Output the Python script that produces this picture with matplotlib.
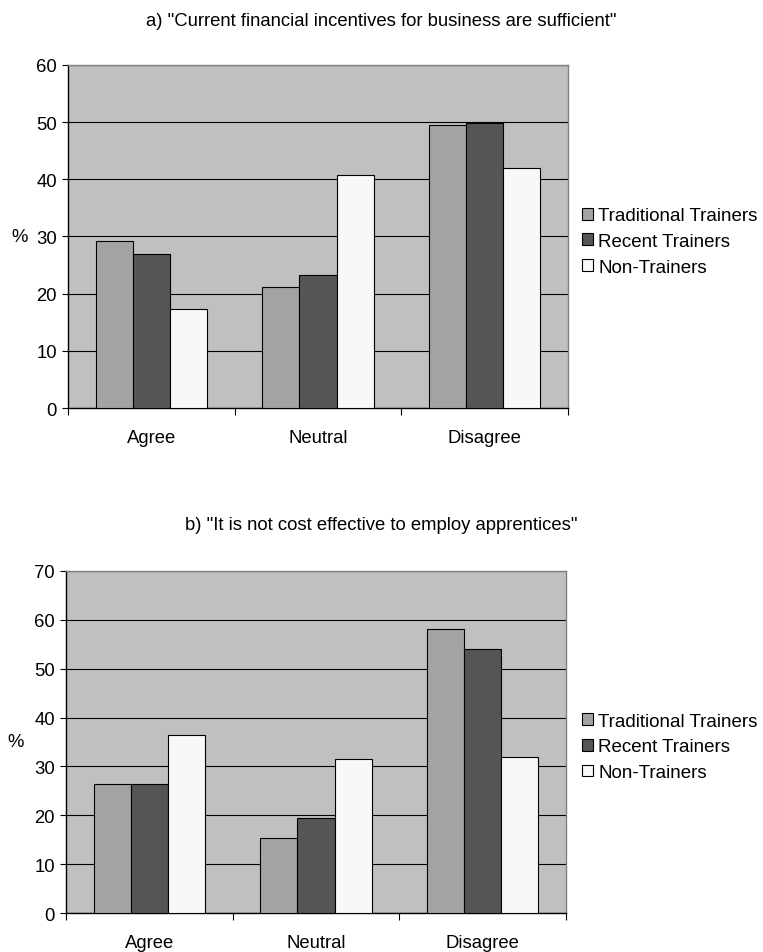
import matplotlib
matplotlib.use("Agg")
import matplotlib.pyplot as plt
import numpy as np

plt.rcParams['font.family'] = ['Liberation Sans', 'DejaVu Sans']

categories = ["Agree", "Neutral", "Disagree"]
series_names = ["Traditional Trainers", "Recent Trainers", "Non-Trainers"]
series_colors = ["#a3a3a3", "#555555", "#f8f8f8"]

title_a = 'a) "Current financial incentives for business are sufficient"'
traditional_a = [29.2, 21.2, 49.5]
recent_a = [27.0, 23.2, 49.8]
non_a = [17.4, 40.7, 41.9]
ticks_a = [0, 10, 20, 30, 40, 50, 60]

title_b = 'b) "It is not cost effective to employ apprentices"'
traditional_b = [26.5, 15.3, 58.1]
recent_b = [26.5, 19.4, 54.0]
non_b = [36.5, 31.6, 31.9]
ticks_b = [0, 10, 20, 30, 40, 50, 60, 70]

FS = 13.3

fig = plt.figure(figsize=(7.63, 9.53), dpi=100)

def draw_panel(rect, title, title_y, series, ticks, ylabel_x):
    ax = fig.add_axes(rect)
    ax.set_facecolor("#c0c0c0")
    x = np.arange(len(categories))
    w = 0.223
    handles = []
    for i, (vals, name, col) in enumerate(zip(series, series_names, series_colors)):
        b = ax.bar(x + (i - 1) * w, vals, width=w, color=col, edgecolor="black",
                   linewidth=0.8, label=name, zorder=3)
        handles.append(b)
    ax.set_xlim(-0.5, len(categories) - 0.5)
    ax.set_ylim(ticks[0], ticks[-1])
    ax.set_yticks(ticks)
    ax.yaxis.grid(True, color="black", linewidth=0.8, zorder=1)
    ax.set_axisbelow(True)
    ax.set_xticks(np.arange(len(categories) + 1) - 0.5)
    ax.set_xticklabels([])
    ax.set_xticks(x, minor=True)
    ax.set_xticklabels(categories, minor=True)
    ax.tick_params(axis="x", which="minor", length=0, pad=15, labelsize=FS)
    ax.tick_params(axis="x", which="major", length=5, direction="out", width=0.8)
    ax.tick_params(axis="y", length=4, direction="out", width=0.8, labelsize=FS, pad=4)
    for s in ["top", "right"]:
        ax.spines[s].set_color("#808080")
        ax.spines[s].set_linewidth(1.0)
    for s in ["left", "bottom"]:
        ax.spines[s].set_color("black")
        ax.spines[s].set_linewidth(1.0)
    ax.set_ylabel("%", rotation=0, fontsize=FS, ha="center", va="center")
    ax.yaxis.set_label_coords(ylabel_x, 0.5)
    fig.text(0.5, title_y, title, fontsize=FS, ha="center", va="center")
    cy = rect[1] + rect[3] / 2 - 5 / 953
    ax.legend(handles=handles, loc="center left", bbox_to_anchor=(582 / 763, cy),
              bbox_transform=fig.transFigure, frameon=False, fontsize=13.5,
              handlelength=0.6, handleheight=0.6, handletextpad=0.28,
              labelspacing=0.46, borderpad=0, borderaxespad=0)
    return ax

draw_panel([0.0891, 0.5708, 0.6553, 0.360], title_a, 1 - 21 / 953,
           [traditional_a, recent_a, non_a], ticks_a, -0.096)
draw_panel([0.0865, 0.0409, 0.6553, 0.359], title_b, 1 - 526 / 953,
           [traditional_b, recent_b, non_b], ticks_b, -0.10)

fig.savefig("out.png", dpi=100)
